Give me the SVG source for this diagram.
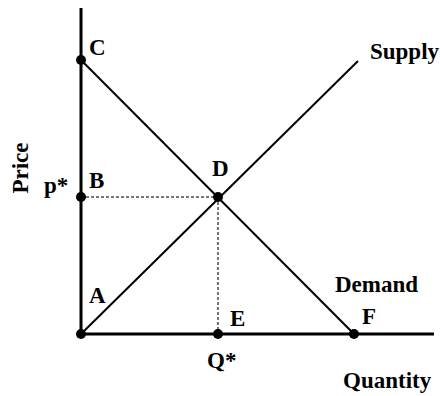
<svg xmlns="http://www.w3.org/2000/svg" width="440" height="396" viewBox="0 0 440 396">
<style>
text{font-family:"Liberation Serif","Times New Roman",serif;font-weight:bold;font-size:23px;fill:#000}
.axis{stroke:#000;stroke-width:3;fill:none}
.curve{stroke:#000;stroke-width:2;fill:none}
.guide{stroke:#777;stroke-width:2;stroke-dasharray:3 2;fill:none}
.dot{fill:#000}
</style>
<rect width="440" height="396" fill="#fff"/>
<g id="connectors">
<line class="axis" x1="81" y1="8" x2="81" y2="335"/>
<line class="axis" x1="80" y1="334" x2="434" y2="334"/>
<line class="guide" x1="81" y1="197" x2="218" y2="197"/>
<line class="guide" x1="218" y1="197" x2="218" y2="334"/>
<line id="demand-line" class="curve" x1="81" y1="60" x2="354" y2="334"/>
<line id="supply-line" class="curve" x1="81" y1="334" x2="358" y2="61"/>
</g>
<g id="point-A"><circle class="dot" cx="81" cy="334" r="5"/><text x="89" y="303">A</text></g>
<g id="point-B"><circle class="dot" cx="81" cy="197" r="5"/><text x="89" y="188">B</text></g>
<g id="point-C"><circle class="dot" cx="81" cy="60" r="5"/><text x="89" y="55">C</text></g>
<g id="point-D"><circle class="dot" cx="218" cy="197" r="5"/><text x="212" y="176">D</text></g>
<g id="point-E"><circle class="dot" cx="218" cy="334" r="5"/><text x="230" y="326">E</text></g>
<g id="point-F"><circle class="dot" cx="354" cy="334" r="5"/><text x="362" y="324">F</text></g>
<g id="label-pstar"><text x="44" y="193">p*</text></g>
<g id="label-qstar"><text x="207" y="368">Q*</text></g>
<g id="label-price"><text transform="translate(28,168) rotate(-90)" text-anchor="middle">Price</text></g>
<g id="label-quantity"><text x="343" y="388">Quantity</text></g>
<g id="label-supply"><text x="370" y="59">Supply</text></g>
<g id="label-demand"><text x="335" y="292">Demand</text></g>
</svg>
